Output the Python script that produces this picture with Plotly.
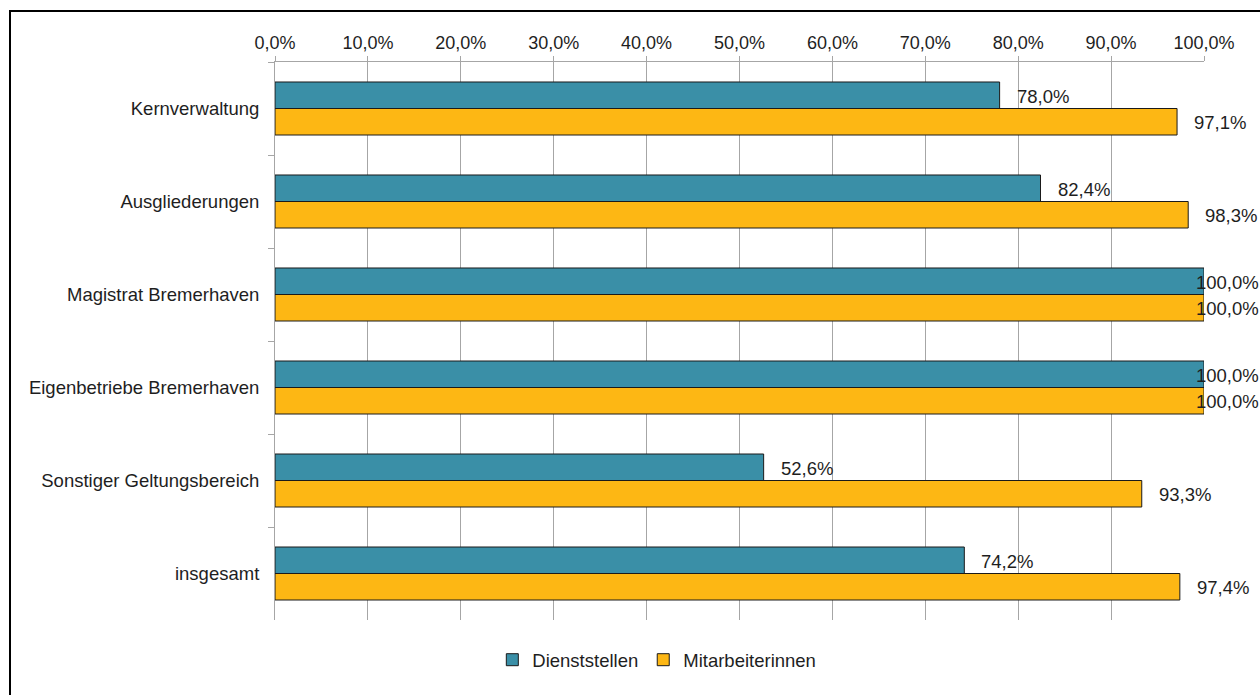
import plotly.graph_objects as go

categories = ["Kernverwaltung", "Ausgliederungen", "Magistrat Bremerhaven",
              "Eigenbetriebe Bremerhaven", "Sonstiger Geltungsbereich", "insgesamt"]
dienststellen = [78.0, 82.4, 100.0, 100.0, 52.6, 74.2]
mitarbeiterinnen = [97.1, 98.3, 100.0, 100.0, 93.3, 97.4]
series_names = ["Dienststellen", "Mitarbeiterinnen"]
x_ticks = [0, 10, 20, 30, 40, 50, 60, 70, 80, 90, 100]

FONT = "Liberation Sans, Arial, sans-serif"
TXT = "#1e1e1e"
GRID = "#A6A6A6"
FS = 18.5

L, T, PW, PH = 275, 62, 929, 558

fig = go.Figure()
fig.add_trace(go.Bar(y=categories, x=dienststellen, orientation="h", name=series_names[0],
                     marker=dict(color="#3A8FA7", line=dict(color="#1a1a1a", width=1))))
fig.add_trace(go.Bar(y=categories, x=mitarbeiterinnen, orientation="h", name=series_names[1],
                     marker=dict(color="#FDB714", line=dict(color="#1a1a1a", width=1))))

def fmt(v):
    return f"{v:.1f}".replace(".", ",") + "%"

annotations = []
for vals, ysh in ((dienststellen, 12), (mitarbeiterinnen, -14)):
    for c, v in zip(categories, vals):
        annotations.append(dict(
            x=v, y=c, xref="x", yref="y", text=fmt(v), showarrow=False,
            xanchor="left", yanchor="middle",
            xshift=(15 if v < 99 else -10), yshift=ysh,
            font=dict(family=FONT, size=FS, color=TXT)))

fig.update_layout(
    width=1260, height=695,
    margin=dict(l=L, r=1260 - L - PW, t=T, b=695 - T - PH),
    paper_bgcolor="white", plot_bgcolor="white",
    barmode="group", bargap=0.43, bargroupgap=0,
    separators=",.",
    font=dict(family=FONT, size=FS, color=TXT),
    annotations=annotations,
    showlegend=True,
    legend=dict(orientation="h", x=0.411, xanchor="center", y=-0.072, yanchor="middle",
                font=dict(family=FONT, size=FS, color=TXT), traceorder="normal"),
    shapes=[dict(type="rect", xref="paper", yref="paper",
                 x0=(10 - L) / PW, x1=1.2, y0=-0.3, y1=(T + PH - 11) / PH,
                 line=dict(color="black", width=2), fillcolor="rgba(0,0,0,0)", layer="below")],
)

fig.update_xaxes(side="top", range=[0, 100], tickvals=x_ticks,
                 ticktext=[fmt(t) for t in x_ticks],
                 showgrid=True, gridcolor=GRID, gridwidth=1,
                 showline=True, linecolor=GRID, linewidth=1,
                 ticks="outside", ticklen=5, tickcolor=GRID,
                 zeroline=False, tickfont=dict(family=FONT, size=18, color=TXT))
fig.update_yaxes(autorange="reversed", showgrid=False,
                 showline=True, linecolor=GRID, linewidth=1,
                 ticks="outside", ticklen=6, tickcolor=GRID, tickson="boundaries",
                 ticklabelstandoff=11,
                 tickfont=dict(family=FONT, size=FS, color=TXT))

fig.write_html("out.html", config={"displayModeBar": False},
               post_script="document.body.style.margin='0';"
                           "document.documentElement.style.overflow='hidden';")
